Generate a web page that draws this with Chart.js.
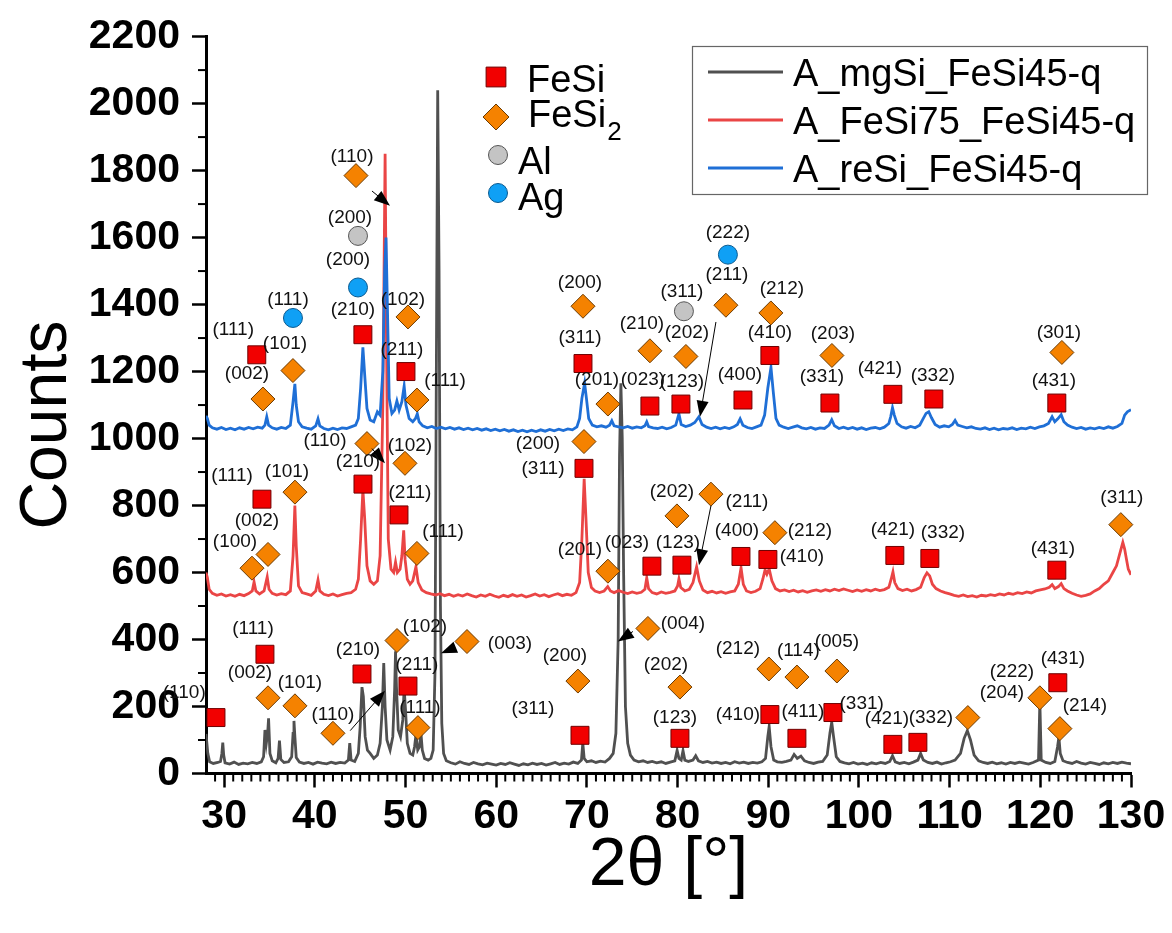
<!DOCTYPE html>
<html>
<head>
<meta charset="utf-8">
<script src="https://cdn.jsdelivr.net/npm/chart.js@4.4.1/dist/chart.umd.min.js"></script>
<style>
  html, body { margin: 0; padding: 0; background: #fff; }
</style>
</head>
<body>
<canvas id="xrdChart" width="1172" height="933"></canvas>
<script>
// axis ticks
const xTicks = [30, 40, 50, 60, 70, 80, 90, 100, 110, 120, 130];
const yTicks = [0, 200, 400, 600, 800, 1000, 1200, 1400, 1600, 1800, 2000, 2200];

// series names
const seriesNames = ['A_mgSi_FeSi45-q', 'A_FeSi75_FeSi45-q', 'A_reSi_FeSi45-q'];

// diffractograms, [2theta, counts]
const mgSi = [
  [28.0,118],[28.2,60],[28.4,35],[28.8,30],[29.3,33],[29.6,36],[29.75,60],[29.85,92],[29.95,55],[30.1,32],
  [30.6,28],[31.1,34],[31.6,27],[32.1,31],[32.6,29],[33.1,33],[33.6,30],[34.1,35],[34.35,50],[34.5,130],
  [34.65,90],[34.8,120],[34.9,165],[35.05,60],[35.3,38],[35.7,32],[35.95,45],[36.1,98],[36.25,42],[36.6,33],
  [37.1,35],[37.45,50],[37.6,120],[37.7,157],[37.8,110],[37.95,48],[38.3,34],[38.8,30],[39.3,33],[39.8,28],
  [40.3,34],[40.8,31],[41.3,29],[41.8,34],[42.3,30],[42.8,33],[43.3,31],[43.7,40],[43.85,91],[44.0,40],
  [44.4,36],[44.8,60],[45.0,140],[45.2,258],[45.35,230],[45.55,110],[45.8,70],[46.1,60],[46.5,45],[46.9,55],
  [47.2,90],[47.45,200],[47.6,330],[47.75,200],[47.95,100],[48.3,70],[48.6,110],[48.8,250],[48.9,365],[49.0,260],
  [49.2,130],[49.45,110],[49.7,160],[49.85,255],[50.0,190],[50.2,90],[50.5,60],[50.8,55],[51.0,80],[51.15,115],
  [51.35,70],[51.55,80],[51.7,121],[51.85,70],[52.1,45],[52.5,40],[52.8,45],[53.05,70],[53.25,300],[53.4,1200],
  [53.55,2040],[53.7,1500],[53.85,500],[54.0,150],[54.2,60],[54.5,38],[55.0,32],[55.5,28],[56.0,35],[56.5,30],
  [57.0,27],[57.5,33],[58.0,29],[58.5,26],[59.0,31],[59.5,28],[60.0,25],[60.5,30],[61.0,27],[61.5,32],
  [62.0,28],[62.5,24],[63.0,29],[63.5,26],[64.0,31],[64.5,27],[65.0,30],[65.5,25],[66.0,29],[66.5,33],
  [67.0,27],[67.5,31],[68.0,28],[68.5,34],[69.0,30],[69.4,40],[69.55,91],[69.7,45],[70.0,35],[70.5,38],
  [71.0,33],[71.5,37],[72.0,34],[72.5,45],[72.9,60],[73.2,120],[73.45,400],[73.6,950],[73.75,1165],[73.9,1000],
  [74.05,600],[74.25,200],[74.5,90],[74.8,55],[75.2,40],[75.7,35],[76.2,38],[76.7,33],[77.2,36],[77.7,32],
  [78.2,35],[78.7,30],[79.2,34],[79.7,38],[79.95,69],[80.15,45],[80.4,40],[80.6,68],[80.8,40],[81.2,36],
  [81.7,40],[82.0,53],[82.3,38],[82.8,33],[83.3,36],[83.8,31],[84.3,34],[84.8,30],[85.3,33],[85.8,29],
  [86.3,35],[86.8,31],[87.3,34],[87.8,30],[88.3,33],[88.8,31],[89.3,35],[89.7,45],[89.95,110],[90.1,140],
  [90.3,80],[90.6,40],[91.0,35],[91.5,33],[92.0,36],[92.5,40],[92.85,57],[93.2,45],[93.6,52],[94.0,38],
  [94.5,33],[95.0,30],[95.5,34],[96.0,36],[96.5,55],[96.8,120],[97.0,153],[97.2,110],[97.5,50],[97.9,36],
  [98.4,32],[98.9,29],[99.4,33],[99.9,28],[100.4,31],[100.9,27],[101.4,32],[101.9,29],[102.4,33],[102.9,30],
  [103.4,36],[103.7,53],[104.0,35],[104.5,30],[105.0,33],[105.5,29],[106.0,34],[106.5,40],[106.8,60],[107.1,40],
  [107.6,33],[108.1,30],[108.6,34],[109.1,28],[109.6,32],[110.1,35],[110.6,40],[111.2,60],[111.6,105],[111.95,128],
  [112.3,100],[112.7,55],[113.2,38],[113.7,33],[114.2,30],[114.7,34],[115.2,29],[115.7,32],[116.2,28],[116.7,33],
  [117.2,30],[117.7,34],[118.2,31],[118.7,28],[119.2,33],[119.8,40],[119.95,215],[120.1,40],[120.6,33],[121.1,30],
  [121.6,36],[121.9,80],[122.05,108],[122.2,60],[122.5,38],[123.0,33],[123.5,30],[124.0,36],[124.5,31],[125.0,28],
  [125.5,33],[126.0,30],[126.5,27],[127.0,32],[127.5,29],[128.0,33],[128.5,30],[129.0,34],[129.5,31],[130.0,29]
];

const feSi75 = [
  [28.0,600],[28.15,585],[28.35,550],[28.7,538],[29.2,532],[29.7,536],[30.2,530],[30.7,534],[31.2,529],[31.7,535],
  [32.2,531],[32.7,537],[33.1,545],[33.3,572],[33.5,545],[33.9,536],[34.4,545],[34.75,587],[34.95,550],[35.3,538],
  [35.8,533],[36.3,537],[36.8,534],[37.3,545],[37.6,650],[37.8,800],[37.95,680],[38.2,560],[38.6,540],[39.1,536],
  [39.6,532],[40.1,545],[40.35,578],[40.55,545],[41.0,535],[41.5,531],[42.0,536],[42.5,530],[43.0,534],[43.5,538],
  [44.0,540],[44.5,550],[44.8,580],[45.05,700],[45.3,847],[45.5,760],[45.75,620],[46.1,575],[46.5,565],[46.9,575],
  [47.2,650],[47.5,1100],[47.75,1850],[47.9,1300],[48.1,700],[48.4,610],[48.7,600],[48.9,631],[49.1,600],[49.4,610],
  [49.6,650],[49.8,726],[49.95,640],[50.2,580],[50.5,565],[50.8,575],[51.15,617],[51.4,570],[51.8,548],[52.3,540],
  [52.8,536],[53.3,533],[53.8,537],[54.3,531],[54.8,535],[55.3,529],[55.8,534],[56.3,530],[56.8,536],[57.3,531],
  [57.8,527],[58.3,533],[58.8,529],[59.3,535],[59.8,530],[60.3,526],[60.8,532],[61.3,528],[61.8,534],[62.3,529],
  [62.8,533],[63.3,527],[63.8,531],[64.3,536],[64.8,530],[65.3,534],[65.8,528],[66.3,533],[66.8,537],[67.3,531],
  [67.8,535],[68.3,532],[68.8,540],[69.2,570],[69.45,700],[69.7,880],[69.9,760],[70.15,600],[70.5,555],[70.9,545],
  [71.4,540],[71.9,545],[72.3,558],[72.6,545],[73.0,540],[73.5,546],[74.0,541],[74.5,537],[75.0,542],[75.5,538],
  [76.0,541],[76.4,550],[76.6,584],[76.8,552],[77.2,540],[77.7,536],[78.2,542],[78.7,538],[79.2,541],[79.7,545],
  [80.0,560],[80.15,581],[80.35,555],[80.8,545],[81.3,550],[81.7,570],[82.1,617],[82.4,575],[82.8,548],[83.3,540],
  [83.8,544],[84.3,539],[84.8,543],[85.3,538],[85.8,542],[86.3,545],[86.7,565],[87.0,614],[87.25,565],[87.6,545],
  [88.1,540],[88.6,544],[89.1,552],[89.4,580],[89.65,608],[89.85,595],[90.1,611],[90.4,575],[90.8,552],[91.3,545],
  [91.8,548],[92.3,543],[92.8,547],[93.3,542],[93.8,546],[94.3,541],[94.8,545],[95.3,548],[95.8,544],[96.3,549],
  [96.8,545],[97.3,550],[97.8,546],[98.3,551],[98.8,547],[99.3,543],[99.8,548],[100.3,544],[100.8,549],[101.3,545],
  [101.8,550],[102.3,546],[102.8,549],[103.3,556],[103.55,580],[103.75,602],[103.95,570],[104.3,552],[104.8,546],[105.3,550],
  [105.8,545],[106.3,549],[106.8,556],[107.2,585],[107.5,599],[107.8,590],[108.1,565],[108.5,552],[109.0,545],[109.5,540],
  [110.0,536],[110.5,532],[111.0,529],[111.5,533],[112.0,528],[112.5,531],[113.0,527],[113.5,532],[114.0,530],[114.5,534],
  [115.0,531],[115.5,536],[116.0,533],[116.5,538],[117.0,535],[117.5,540],[118.0,537],[118.5,542],[119.0,539],[119.5,545],
  [120.0,548],[120.5,551],[121.0,556],[121.3,564],[121.6,552],[122.0,558],[122.3,567],[122.6,552],[123.0,545],[123.5,538],
  [124.0,533],[124.5,529],[125.0,532],[125.5,536],[126.0,545],[126.5,552],[127.0,565],[127.5,575],[128.0,600],[128.4,620],
  [128.8,660],[129.1,690],[129.3,670],[129.5,640],[129.7,610],[130.0,593]
];

const reSi = [
  [28.0,1068],[28.15,1060],[28.35,1040],[28.7,1032],[29.2,1028],[29.7,1033],[30.2,1027],[30.7,1031],[31.2,1026],[31.7,1032],
  [32.2,1028],[32.7,1033],[33.2,1029],[33.7,1034],[34.2,1031],[34.5,1040],[34.7,1065],[34.9,1040],[35.3,1032],[35.8,1028],
  [36.3,1033],[36.8,1030],[37.3,1040],[37.6,1110],[37.8,1163],[37.95,1100],[38.2,1050],[38.6,1035],[39.1,1031],[39.6,1028],
  [40.1,1038],[40.35,1059],[40.55,1038],[41.0,1030],[41.5,1026],[42.0,1031],[42.5,1027],[43.0,1032],[43.5,1030],[44.0,1035],
  [44.5,1040],[44.8,1060],[45.05,1150],[45.3,1272],[45.5,1190],[45.75,1090],[46.1,1055],[46.5,1050],[46.9,1080],[47.2,1070],
  [47.5,1200],[47.7,1500],[47.85,1600],[48.0,1400],[48.2,1120],[48.5,1075],[48.8,1085],[49.05,1112],[49.3,1085],[49.6,1110],
  [49.85,1157],[50.05,1100],[50.4,1060],[50.8,1050],[51.1,1060],[51.3,1074],[51.5,1050],[51.9,1038],[52.4,1032],[52.9,1036],
  [53.4,1030],[53.9,1034],[54.4,1029],[54.9,1033],[55.4,1028],[55.9,1032],[56.4,1027],[56.9,1031],[57.4,1026],[57.9,1030],
  [58.4,1025],[58.9,1029],[59.4,1024],[59.9,1028],[60.4,1023],[60.9,1027],[61.4,1022],[61.9,1026],[62.4,1021],[62.9,1025],
  [63.4,1020],[63.9,1025],[64.4,1021],[64.9,1026],[65.4,1022],[65.9,1027],[66.4,1023],[66.9,1028],[67.4,1024],[67.9,1029],
  [68.4,1026],[68.9,1035],[69.2,1060],[69.45,1120],[69.75,1165],[69.95,1120],[70.2,1060],[70.6,1040],[71.1,1035],[71.6,1038],
  [72.1,1034],[72.5,1040],[72.75,1053],[73.0,1038],[73.5,1035],[74.0,1032],[74.5,1036],[75.0,1031],[75.5,1035],[76.0,1032],
  [76.4,1038],[76.6,1050],[76.8,1036],[77.3,1032],[77.8,1030],[78.3,1034],[78.8,1029],[79.3,1033],[79.8,1040],[80.15,1074],
  [80.4,1042],[80.9,1036],[81.4,1040],[81.9,1048],[82.35,1065],[82.7,1042],[83.2,1034],[83.7,1030],[84.2,1034],[84.7,1029],
  [85.2,1033],[85.7,1030],[86.2,1035],[86.6,1042],[86.9,1059],[87.2,1040],[87.7,1033],[88.2,1030],[88.7,1035],[89.2,1040],
  [89.6,1070],[89.95,1150],[90.3,1212],[90.55,1140],[90.85,1060],[91.2,1040],[91.7,1034],[92.2,1030],[92.7,1034],[93.2,1038],
  [93.7,1032],[94.2,1029],[94.7,1033],[95.2,1028],[95.7,1032],[96.2,1030],[96.7,1040],[97.0,1056],[97.3,1038],[97.8,1030],
  [98.3,1034],[98.8,1029],[99.3,1033],[99.8,1028],[100.3,1032],[100.8,1027],[101.3,1031],[101.8,1033],[102.3,1029],[102.8,1034],
  [103.3,1045],[103.5,1065],[103.7,1092],[103.9,1070],[104.2,1045],[104.7,1035],[105.2,1031],[105.7,1036],[106.2,1032],[106.7,1040],
  [107.1,1060],[107.4,1075],[107.7,1080],[108.0,1062],[108.4,1042],[108.9,1034],[109.4,1038],[109.9,1035],[110.3,1042],[110.6,1054],
  [110.9,1040],[111.4,1036],[111.9,1032],[112.4,1035],[112.9,1030],[113.4,1028],[113.9,1032],[114.4,1027],[114.9,1031],[115.4,1026],
  [115.9,1030],[116.4,1028],[116.9,1032],[117.4,1027],[117.9,1031],[118.4,1029],[118.9,1034],[119.4,1030],[119.9,1035],[120.4,1038],
  [120.9,1045],[121.3,1065],[121.6,1050],[121.9,1058],[122.3,1071],[122.6,1050],[123.0,1040],[123.5,1034],[124.0,1030],[124.5,1033],
  [125.0,1028],[125.5,1032],[126.0,1029],[126.5,1033],[127.0,1030],[127.5,1035],[128.0,1031],[128.5,1036],[129.0,1045],[129.3,1070],
  [129.6,1080],[130.0,1086]
];

// phase markers: [2theta, marker y, hkl, label 2theta, label y]
const fesiPeaks = [
  [33.6,1250,'(111)',31.0,1330],[45.3,1310,'(210)',44.2,1389],[50.05,1200,'(211)',49.6,1271],
  [69.57,1224,'(311)',69.24,1307],[76.95,1097,'(023)',76.18,1180],[80.37,1103,'(123)',80.48,1174],
  [87.21,1115,'(400)',86.87,1197],[90.18,1248,'(410)',90.18,1321],[96.8,1106,'(331)',95.92,1189],
  [103.74,1132,'(421)',102.31,1215],[108.26,1118,'(332)',108.15,1192],[121.82,1106,'(431)',121.49,1177],
  [34.17,819,'(111)',30.87,893],[45.31,864,'(210)',44.76,935],[49.28,772,'(211)',50.49,843],
  [69.68,911,'(311)',65.16,914],[77.17,619,'(023)',74.42,693],[80.48,622,'(123)',80.04,693],
  [86.99,648,'(400)',86.55,731],[89.96,639,'(410)',93.71,651],[103.96,651,'(421)',103.74,734],
  [107.82,642,'(332)',109.26,725],[121.82,607,'(431)',121.38,675],
  [29.1,167,'(110)',25.6,245],[34.5,356,'(111)',33.18,438],[45.2,297,'(210)',44.76,374],
  [50.27,261,'(211)',51.26,329],[69.24,114,'(311)',64.05,199],[80.26,105,'(123)',79.71,173],
  [90.18,176,'(410)',86.65,182],[93.16,105,'(411)',93.82,190],[97.13,182,'(331)',100.3,214],
  [103.74,87,'(421)',103.08,170],[106.5,93,'(332)',107.93,173],[121.93,271,'(431)',122.49,347]
];
const fesi2Peaks = [
  [34.28,1118,'(002)',32.52,1200],[37.59,1203,'(101)',36.71,1289],[44.54,1785,'(110)',44.1,1847],
  [50.27,1363,'(102)',49.72,1419],[51.26,1115,'(111)',54.35,1177],[69.57,1395,'(200)',69.24,1469],
  [72.32,1103,'(201)',71.11,1180],[76.95,1262,'(210)',76.07,1348],[80.92,1245,'(202)',81.03,1321],
  [85.33,1398,'(211)',85.44,1493],[90.29,1375,'(212)',91.5,1451],[97.02,1248,'(203)',97.13,1319],
  [122.38,1257,'(301)',122.05,1321],
  [33.07,613,'(100)',31.2,696],[34.84,654,'(002)',33.62,760],[37.81,840,'(101)',36.93,905],
  [45.75,985,'(110)',41.12,1000],[49.94,926,'(102)',50.49,985],[51.26,657,'(111)',54.13,728],
  [69.68,991,'(200)',64.6,991],[72.32,604,'(201)',69.24,672],[79.93,769,'(202)',79.38,846],
  [83.68,834,'(211)',87.65,817],[90.73,719,'(212)',94.59,731],[128.88,743,'(311)',128.99,828],
  [34.84,226,'(002)',32.85,306],[37.81,202,'(101)',38.36,276],[42.0,120,'(110)',42.0,182],
  [49.06,397,'(102)',52.15,444],[51.37,137,'(111)',51.59,202],[56.78,394,'(003)',61.52,394],
  [69.01,276,'(200)',67.58,356],[76.73,433,'(004)',80.59,453],[80.26,258,'(202)',78.72,329],
  [90.07,312,'(212)',86.65,379],[93.16,288,'(114)',93.32,371],[97.57,306,'(005)',97.57,400],
  [112.01,167,'(204)',115.76,247],[119.95,226,'(222)',116.87,309],[122.16,134,'(214)',124.91,208]
];
const alPeaks = [
  [44.76,1605,'(200)',43.88,1664],[80.7,1380,'(311)',80.48,1443]
];
const agPeaks = [
  [37.59,1360,'(111)',37.04,1419],[44.76,1451,'(200)',43.66,1540],[85.55,1549,'(222)',85.55,1620]
];

// arrows: [from 2theta, from y, to 2theta, to y]
const arrows = [
  [46.3,1739,48.29,1695],[84.23,1348,82.47,1065],
  [46.3,970,47.74,926],[83.68,799,82.36,622],
  [43.9,128,47.74,247],[55.45,376,53.91,359],[75.08,424,73.42,394]
];

const FONT = "'Liberation Sans', Arial, Helvetica, sans-serif";
const lineColors = ['#505050', '#ea4545', '#1f6fd6'];
const phases = [
  { name: 'FeSi', sub: '', style: 'rect', fill: '#f20000', edge: '#700000' },
  { name: 'FeSi', sub: '2', style: 'rectRot', fill: '#f58200', edge: '#6b3a00' },
  { name: 'Al', sub: '', style: 'circle', fill: '#c4c4c4', edge: '#555555' },
  { name: 'Ag', sub: '', style: 'circle', fill: '#0fa0f5', edge: '#0a5a90' }
];

const toXY = arr => arr.map(p => ({ x: p[0], y: p[1] }));

function drawMarker(ctx, style, x, y, r, fill, edge) {
  ctx.beginPath();
  if (style === 'rect') {
    const s = r * Math.SQRT1_2;
    ctx.rect(x - s, y - s, 2 * s, 2 * s);
  } else if (style === 'rectRot') {
    ctx.moveTo(x - r, y); ctx.lineTo(x, y - r); ctx.lineTo(x + r, y); ctx.lineTo(x, y + r); ctx.closePath();
  } else {
    ctx.arc(x, y, r, 0, Math.PI * 2);
  }
  ctx.fillStyle = fill; ctx.fill();
  ctx.lineWidth = 1; ctx.strokeStyle = edge; ctx.stroke();
}

const decorations = {
  id: 'decorations',
  afterDatasetsDraw(chart) {
    const { ctx, scales: { x, y } } = chart;
    ctx.save();
    // arrows
    ctx.strokeStyle = '#000'; ctx.fillStyle = '#000'; ctx.lineWidth = 1;
    arrows.forEach(([x1, y1, x2, y2]) => {
      const ax = x.getPixelForValue(x1), ay = y.getPixelForValue(y1);
      const bx = x.getPixelForValue(x2), by = y.getPixelForValue(y2);
      const a = Math.atan2(by - ay, bx - ax), c = Math.cos(a), s = Math.sin(a);
      ctx.beginPath(); ctx.moveTo(ax, ay); ctx.lineTo(bx - 10 * c, by - 10 * s); ctx.stroke();
      ctx.beginPath();
      ctx.moveTo(bx, by);
      ctx.lineTo(bx - 16 * c + 6 * s, by - 16 * s - 6 * c);
      ctx.lineTo(bx - 16 * c - 6 * s, by - 16 * s + 6 * c);
      ctx.closePath(); ctx.fill();
    });
    // hkl labels
    ctx.font = `19px ${FONT}`;
    ctx.textAlign = 'center'; ctx.textBaseline = 'alphabetic'; ctx.fillStyle = '#111';
    [fesiPeaks, fesi2Peaks, alPeaks, agPeaks].forEach(list => list.forEach(p => {
      ctx.fillText(p[2], x.getPixelForValue(p[3]), y.getPixelForValue(p[4]) + 7);
    }));
    ctx.restore();
  },
  afterDraw(chart) {
    const { ctx, scales: { x, y } } = chart;
    ctx.save();
    // minor ticks
    ctx.strokeStyle = '#000'; ctx.lineWidth = 2;
    for (let v = yTicks[0] + 100; v < yTicks[yTicks.length - 1]; v += 200) {
      const py = y.getPixelForValue(v);
      ctx.beginPath(); ctx.moveTo(x.left - 8, py); ctx.lineTo(x.left, py); ctx.stroke();
    }
    for (let v = Math.ceil(x.min) + 1; v <= x.max; v++) {
      if (v % 10 === 0) continue;
      const px = x.getPixelForValue(v);
      ctx.beginPath(); ctx.moveTo(px, y.bottom); ctx.lineTo(px, y.bottom + 8); ctx.stroke();
    }

    // axis titles
    ctx.fillStyle = '#000';
    ctx.font = `66px ${FONT}`;
    ctx.textAlign = 'center'; ctx.textBaseline = 'middle';
    ctx.save();
    ctx.translate(48, 425); ctx.rotate(-Math.PI / 2);
    ctx.fillText('Counts', 0, 0);
    ctx.restore();
    ctx.font = `68px ${FONT}`;
    ctx.fillText('2\u03b8 [\u00b0]', (x.left + x.right) / 2, 866);

    // series legend box
    ctx.strokeStyle = '#666'; ctx.lineWidth = 1.2;
    ctx.strokeRect(692.5, 46.5, 455, 148);
    ctx.font = `38px ${FONT}`; ctx.textAlign = 'left'; ctx.textBaseline = 'alphabetic';
    seriesNames.forEach((name, i) => {
      const ly = 72 + 48 * i;
      ctx.strokeStyle = lineColors[i]; ctx.lineWidth = 3;
      ctx.beginPath(); ctx.moveTo(708, ly); ctx.lineTo(783, ly); ctx.stroke();
      ctx.fillStyle = '#000';
      ctx.fillText(name, 793, ly + 13.6);
    });

    // phase legend
    const rows = [
      { mx: 496, my: 77, r: 14, tx: 527, ty: 78 },
      { mx: 496, my: 117, r: 13, tx: 528, ty: 113 },
      { mx: 498, my: 155, r: 9.5, tx: 518, ty: 160 },
      { mx: 498, my: 193, r: 9.5, tx: 518, ty: 196 }
    ];
    phases.forEach((ph, i) => {
      const rw = rows[i];
      drawMarker(ctx, ph.style, rw.mx, rw.my, rw.r, ph.fill, ph.edge);
      ctx.fillStyle = '#000';
      ctx.font = `38px ${FONT}`;
      ctx.fillText(ph.name, rw.tx, rw.ty + 13.6);
      if (ph.sub) {
        const w = ctx.measureText(ph.name).width;
        ctx.font = `26px ${FONT}`;
        ctx.fillText(ph.sub, rw.tx + w + 1, rw.ty + 27);
      }
    });
    ctx.restore();
  }
};

const markerSet = (list, ph, r) => ({
  label: ph.name + ph.sub,
  data: toXY(list),
  showLine: false,
  pointStyle: ph.style,
  pointRadius: r,
  pointHoverRadius: r,
  backgroundColor: ph.fill,
  borderColor: ph.edge,
  borderWidth: 1,
  order: 0,
  clip: false
});

const lineSet = (arr, i, order) => ({
  label: seriesNames[i],
  data: toXY(arr),
  showLine: true,
  borderColor: lineColors[i],
  borderWidth: 2.8,
  pointRadius: 0,
  tension: 0,
  order: order
});

const ctx = document.getElementById('xrdChart').getContext('2d');
const xrdChart = new Chart(ctx, {
  type: 'scatter',
  data: {
    datasets: [
      markerSet(fesiPeaks, phases[0], 12.7),
      markerSet(fesi2Peaks, phases[1], 12),
      markerSet(alPeaks, phases[2], 9.5),
      markerSet(agPeaks, phases[3], 9.5),
      lineSet(reSi, 2, 1),
      lineSet(feSi75, 1, 2),
      lineSet(mgSi, 0, 3)
    ]
  },
  options: {
    responsive: false,
    animation: false,
    devicePixelRatio: 1,
    layout: { padding: { top: 28.5, right: 41, bottom: 0, left: 0 } },
    plugins: { legend: { display: false }, tooltip: { enabled: false } },
    scales: {
      x: {
        type: 'linear',
        min: 28,
        max: 130,
        afterBuildTicks: s => { s.ticks = xTicks.map(v => ({ value: v })); },
        afterFit: s => { s.height = 159.5; },
        border: { color: '#000', width: 3 },
        grid: { drawOnChartArea: false, tickLength: 14, tickWidth: 2.5, tickColor: '#000' },
        ticks: { color: '#000', padding: 5, maxRotation: 0, autoSkip: false, callback: v => String(v),
                 font: { family: FONT, size: 41, weight: 'bold' } }
      },
      y: {
        type: 'linear',
        min: 0,
        max: 2200,
        afterBuildTicks: s => { s.ticks = yTicks.map(v => ({ value: v })); },
        afterFit: s => { s.width = 206; },
        border: { color: '#000', width: 3 },
        grid: { drawOnChartArea: false, tickLength: 14, tickWidth: 2.5, tickColor: '#000' },
        ticks: { color: '#000', padding: 12, autoSkip: false, callback: v => String(v),
                 font: { family: FONT, size: 41, weight: 'bold' } }
      }
    }
  },
  plugins: [decorations]
});
</script>
</body>
</html>
